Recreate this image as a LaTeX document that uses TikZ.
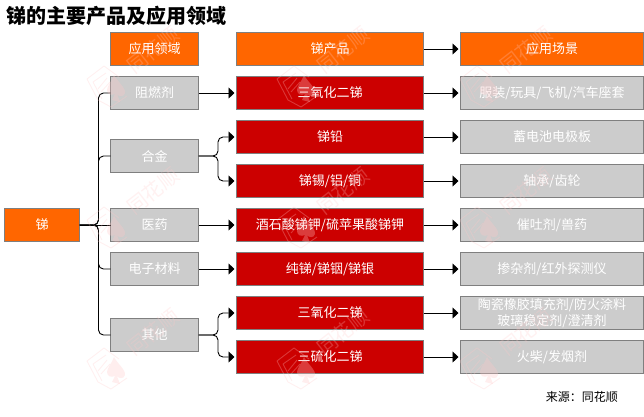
\documentclass[tikz,border=0pt]{standalone}
\usepackage{fontspec}
\setmainfont{Noto Sans CJK SC}
\usetikzlibrary{arrows.meta}

\definecolor{orange1}{HTML}{FF6600}
\definecolor{red1}{HTML}{CC0000}
\definecolor{gray1}{HTML}{CCCCCC}
\definecolor{frame1}{HTML}{7F7F7F}
\definecolor{pink1}{HTML}{FFC8C8}

\begin{document}
\begin{tikzpicture}[
    x=1pt, y=-1pt,
    % Grundstil der Kaesten
    box/.style={draw=frame1, line width=1.2pt, text=white, font=\fontsize{13}{16}\selectfont,
                inner sep=0pt, outer sep=0pt, align=center, anchor=north west},
    headbox/.style={box, fill=orange1},
    redbox/.style={box, fill=red1},
    graybox/.style={box, fill=gray1},
    % Verbindungen
    link/.style={line width=0.9pt, black, rounded corners=5pt},
    arrow/.style={line width=0.9pt, black, rounded corners=5pt, shorten >=2pt,
                  -{Triangle[width=11pt,length=6pt]}},
    % Wasserzeichen
    wmtext/.style={text=pink1, text opacity=0.25, font=\fontsize{20}{20}\selectfont, rotate=38, inner sep=0pt},
    wmline/.style={draw=pink1, draw opacity=0.28, line width=0.9pt, line join=round},
    wmfill/.style={fill=pink1, fill opacity=0.3},
    watermark/.pic={
        \draw[wmline] (-20,-7) -- (-3,-20) -- (12,-9) (-20,-7) -- (-9,14) -- (4,21) -- (20,10);
        \draw[wmline] (-14,-4) -- (-1,-13) (-14,-4) -- (-5,13);
        \draw[wmline] (-9,3) -- (0,-8) (-6,6) -- (3,-4);
        \fill[wmfill] (7,-11) .. controls (10,-5) and (19,2) .. (18,7)
            .. controls (17,11) and (12,11) .. (10,8) -- (13,16) -- (5,14) -- (8,8)
            .. controls (4,10) and (0,8) .. (0,4) .. controls (0,0) and (5,-5) .. (7,-11) -- cycle;
    }
]

\useasboundingbox (0,0) rectangle (644,416);

\node[anchor=west, inner sep=0pt, font=\fontsize{20}{20}\selectfont\bfseries] (title) at (6,15.5) {锑的主要产品及应用领域};

% Kopfzeile
\node[headbox, minimum width=88pt, minimum height=33pt] (headfield) at (110.5,32.5) {应用领域};
\node[headbox, minimum width=187pt, minimum height=33pt] (headproduct) at (236.5,32.5) {锑产品};
\node[headbox, minimum width=183pt, minimum height=33pt] (headscene) at (460.5,32.5) {应用场景};

\node[headbox, minimum width=75pt, minimum height=33pt] (root) at (4.5,208.5) {锑};

% Anwendungsgebiete
\foreach \name/\y/\txt in {flame/76.5/阻燃剂, alloy/139.5/合金, medicine/208.5/医药, electronic/252.5/电子材料, other/318.5/其他}
    \node[graybox, minimum width=88pt, minimum height=33pt] (\name) at (110.5,\y) {\txt};

% Produkte
\foreach \name/\y/\txt in {oxideA/76.5/三氧化二锑, lead/120.5/锑铅, tin/164.5/{锑锡/铝/铜}, tartrate/208.5/{酒石酸锑钾/硫苹果酸锑钾}, pure/252.5/{纯锑/锑铟/锑银}, oxideB/296.5/三氧化二锑, sulfide/340.5/三硫化二锑}
    \node[redbox, minimum width=187pt, minimum height=33pt] (\name) at (236.5,\y) {\txt};

% Anwendungsszenen
\foreach \name/\y/\txt in {clothes/76.5/{服装/玩具/飞机/汽车座套}, battery/120.5/蓄电池电极板, bearing/164.5/{轴承/齿轮}, emetic/208.5/{催吐剂/兽药}, dopant/252.5/{掺杂剂/红外探测仪}, ceramic/296.5/{陶瓷橡胶填充剂/防火涂料\\玻璃稳定剂/澄清剂}, match/340.5/{火柴/发烟剂}}
    \node[graybox, minimum width=183pt, minimum height=33pt] (\name) at (460.5,\y) {\txt};

\node[anchor=east, inner sep=0pt, font=\fontsize{12}{12}\selectfont] (source) at (618,397) {来源：同花顺};

% Verzweigung von der Wurzel
\coordinate (trunk) at (98.5,225);
\draw[link] (root.east) -- (trunk) |- (flame.west);
\draw[link] (root.east) -- (trunk) |- (alloy.west);
\draw[link] (root.east) -- (medicine.west);
\draw[link] (root.east) -- (trunk) |- (electronic.west);
\draw[link] (root.east) -- (trunk) |- (other.west);

% Gebiet zu Produkt
\coordinate (forkalloy) at (218,156);
\coordinate (forkother) at (218,335);
\draw[arrow] (flame.east) -- (oxideA.west);
\draw[arrow] (alloy.east) -- (forkalloy) |- (lead.west);
\draw[arrow] (alloy.east) -- (forkalloy) |- (tin.west);
\draw[arrow] (medicine.east) -- (tartrate.west);
\draw[arrow] (electronic.east) -- (pure.west);
\draw[arrow] (other.east) -- (forkother) |- (oxideB.west);
\draw[arrow] (other.east) -- (forkother) |- (sulfide.west);

% Produkt zu Szene
\foreach \from/\to in {headproduct/headscene, oxideA/clothes, lead/battery, tin/bearing, tartrate/emetic, pure/dopant, oxideB/ceramic, sulfide/match}
    \draw[arrow] (\from.east) -- (\to.west);

% Wasserzeichen
\foreach \wx in {107,297,480}
    \foreach \wy in {86,227,368} {
        \pic at (\wx,\wy) {watermark};
        \node[wmtext] at (\wx+46,\wy-36) {同花顺};
    }

\end{tikzpicture}
\end{document}
